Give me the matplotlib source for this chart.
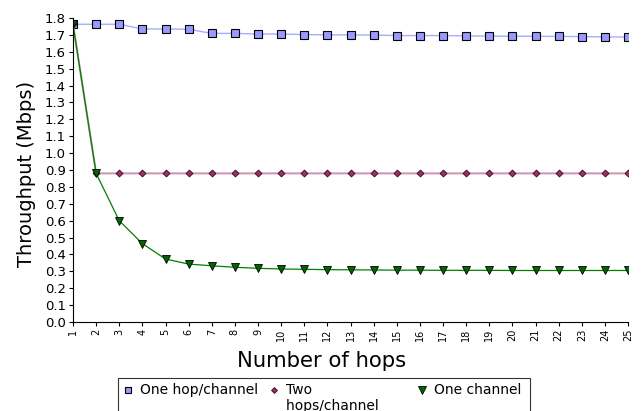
import matplotlib
matplotlib.use("Agg")
import numpy as np
import matplotlib.pyplot as plt
from matplotlib.legend_handler import HandlerLine2D

hops = list(range(1, 26))
one_hop = [1.763, 1.763, 1.763, 1.735, 1.735, 1.733, 1.709, 1.709, 1.705, 1.705,
           1.702, 1.700, 1.700, 1.699, 1.696, 1.696, 1.696, 1.694, 1.693, 1.692,
           1.692, 1.691, 1.690, 1.688, 1.687]
two_hops = [1.763] + [0.88] * 24
one_channel = [1.763, 0.88, 0.60, 0.464, 0.373, 0.343, 0.333, 0.324, 0.318, 0.314,
               0.312, 0.310, 0.309, 0.308, 0.307, 0.307, 0.306, 0.306, 0.306, 0.305,
               0.305, 0.305, 0.305, 0.305, 0.305]
labels = ["One hop/channel", "Two\nhops/channel", "One channel"]
yticks = [round(0.1 * i, 1) for i in range(19)]

fig = plt.figure(figsize=(6.41, 4.11), dpi=100)
ax = fig.add_axes([73/641, 1-322/411, (628-73)/641, (322-18)/411])

l1, = ax.plot(hops, one_hop, color="#aaaaff", lw=1, marker="s", ms=5.5,
              mfc="#9999ff", mec="black", mew=0.8, label=labels[0])
l2, = ax.plot(hops, two_hops, color="#cc99b3", lw=1.5, marker="D", ms=3.5,
              mfc="#993366", mec="#330022", mew=0.6, label=labels[1])
l3, = ax.plot(hops, one_channel, color="#008000", lw=0.9, marker="v", ms=6,
              mfc="#006600", mec="black", mew=0.6, label=labels[2])

ax.set_xlim(1, 25)
ax.set_ylim(0, 1.8)
ax.set_xticks(hops)
ax.set_xticklabels([str(h) for h in hops], rotation=90, fontsize=7)
ax.set_yticks(yticks)
ax.set_yticklabels([f"{v:.1f}" for v in yticks], fontsize=9.5)
ax.spines["top"].set_visible(False)
ax.spines["right"].set_visible(False)
ax.tick_params(length=3, width=0.8, pad=2)
ax.set_xlabel("Number of hops", fontsize=15.2)
ax.xaxis.set_label_coords((322 - 73) / 555, -(363 - 322 + 4) / 304)
ax.xaxis.label.set_va("baseline")
ax.set_ylabel("Throughput (Mbps)", fontsize=14)
ax.yaxis.set_label_coords(-(73 - 36) / 555, (322 - 174) / 304)


class TopHandler(HandlerLine2D):
    def create_artists(self, legend, orig_handle, xdescent, ydescent, width,
                       height, fontsize, trans):
        arts = super().create_artists(legend, orig_handle, xdescent, ydescent,
                                      width, height, fontsize, trans)
        for a in arts:
            a.set_ydata(np.asarray(a.get_ydata(), dtype=float) + 0.6 * fontsize)
            a.set_linestyle("none")
        return arts


# every legend label spans two lines so that the rows align on their first line
leg_labels = [labels[0] + "\n ", labels[1] + "      ", labels[2] + " \n "]
h = TopHandler()
leg = fig.legend(handles=[l1, l2, l3], labels=leg_labels, loc="upper left",
                 bbox_to_anchor=(118/641, 1-378/411),
                 ncol=3, fontsize=10, frameon=True, fancybox=False,
                 handlelength=0.7, handletextpad=0.5, borderaxespad=0, borderpad=0.35,
                 columnspacing=0.86, markerscale=0.85,
                 handler_map={l1: h, l2: h, l3: h})
leg.get_frame().set_edgecolor("black")
leg.get_frame().set_linewidth(0.8)

fig.savefig("out.png", dpi=100)
